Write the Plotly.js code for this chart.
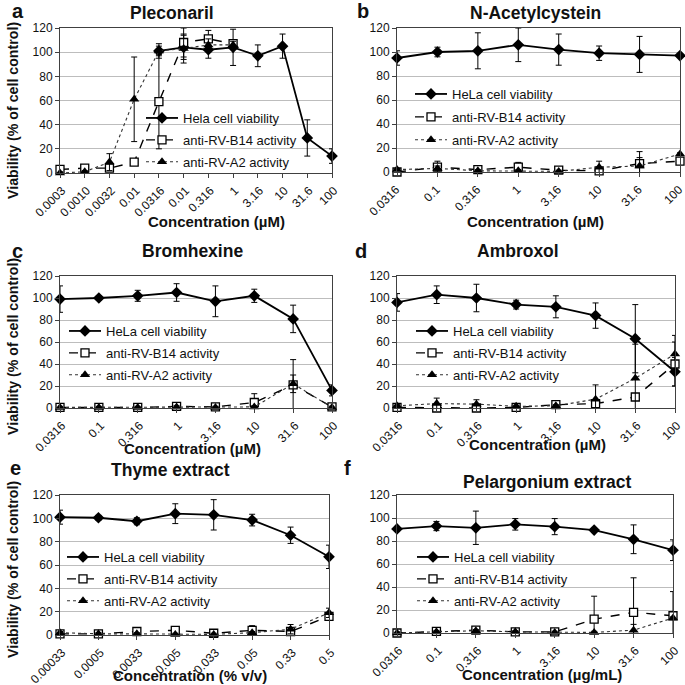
<!DOCTYPE html>
<html><head><meta charset="utf-8">
<script src="https://cdn.plot.ly/plotly-3.0.1.min.js"></script>
<style>body{margin:0;background:#fff}#c{width:685px;height:685px}</style>
</head><body><div id="c"></div>
<script>
// ---------- DATA ----------
const catsA = ['0.0003','0.0010','0.0032','0.01','0.0316','0.01','0.316','1','3.16','10','31.6','100'];
const helaA = [null,null,null,null,101,104,102,104,97,105,29,14];
const helaErrA = [null,null,null,null,6,10,7,15,9,10,15,6];
const b14A = [3,4,4,9,59,108,111,107,null,null,null,null];
const b14ErrA = [1,1,1,1,39,12,7,3,null,null,null,null];
const a2A = [0,1,9,61,101,103,106,106,null,null,null,null];
const a2ErrA = [1,1,7,35,4,12,5,3,null,null,null,null];

const catsB = ['0.0316','0.1','0.316','1','3.16','10','31.6','100'];
const helaB = [95,100,101,106,102,99,98,97];
const helaErrB = [6,4,15,14,13,6,15,0];
const b14B = [0,4,2,4,1.5,1,7,9];
const b14ErrB = [1,5,1,4,1,1,10,1];
const a2B = [2,3,1,1,0.5,4,5,15];
const a2ErrB = [1,2,1,1,1,5,7,1];

const catsC = ['0.0316','0.1','0.316','1','3.16','10','31.6','100'];
const helaC = [99,100,102,105,97,102,81,16];
const helaErrC = [12,2,5,8,14,6,12.5,5];
const b14C = [0.5,0.5,0.5,1.5,1,5,21,1];
const b14ErrC = [1,1,1,1,1,8,23,1];
const a2C = [0.5,0.5,0.5,1,0.5,1,22,0.5];
const a2ErrC = [1,1,1,1,1,1,8,1];

const catsD = ['0.0316','0.1','0.316','1','3.16','10','31.6','100'];
const helaD = [96,103,100,94,92,84,63,33];
const helaErrD = [8,8,12.5,4,10,11.5,31,13];
const b14D = [0.5,0,0,0.5,3,4,10,40];
const b14ErrD = [1,1,1,1,1,1,1,20];
const a2D = [2,4,3.5,1.5,2,8,27,49];
const a2ErrD = [1,5,4,1,1,13,31,17];

const catsE = ['0.00033','0.0005','0.0033','0.005','0.033','0.05','0.33','0.5'];
const helaE = [101,100.5,97.5,104,103,98.5,85.5,67];
const helaErrE = [6,2,3,8.5,13,5,7,10];
const b14E = [1,1,3,4,1.5,4,3,16];
const b14ErrE = [1,1,1,1,1,4,1,1];
const a2E = [2,1,1,0.5,0.5,2,5,19];
const a2ErrE = [1,1,1,1,1,1,4,4];

const catsF = ['0.0316','0.1','0.316','1','3.16','10','31.6','100'];
const helaF = [90.5,93,91.5,94.5,92.5,89.5,81.5,72];
const helaErrF = [1,4,14.5,5,7,1,12.5,9];
const b14F = [0,1.5,2.5,1,1,12,18,15];
const b14ErrF = [1,1,1,1,1,20,30,21];
const a2F = [0,1,2,1,0.5,0.5,2.5,13];
const a2ErrF = [1,1,1,1,1,1,5,1];

const yTicks = [0,20,40,60,80,100,120];
const seriesNames = ['HeLa cell viability','anti-RV-B14 activity','anti-RV-A2 activity'];

// ---------- LAYOUT HELPERS ----------
const W = 685, H = 685;
const px = v => v / W, py = v => 1 - v / H;
const FONT = 'Liberation Sans, Arial, sans-serif';

const panels = [
  {L:'a', title:'Pleconaril', cats:catsA, d:[helaA,b14A,a2A], e:[helaErrA,b14ErrA,a2ErrA], xt:'Concentration (µM)', n0:'Hela cell viability',
   box:[60,332,28,173], tpos:[172,13], lpos:[10,11], xtpos:[216,221], leg:[147,118], gap:2, yt:111, sh:2},
  {L:'b', title:'N-Acetylcystein', cats:catsB, d:[helaB,b14B,a2B], e:[helaErrB,b14ErrB,a2ErrB], xt:'Concentration (µM)',
   box:[397,680,28,172], tpos:[535,13], lpos:[355,11], xtpos:[535,221], leg:[416,94], gap:3, sh:-1},
  {L:'c', title:'Bromhexine', cats:catsC, d:[helaC,b14C,a2C], e:[helaErrC,b14ErrC,a2ErrC], xt:'Concentration (µM)',
   box:[60,332,276,408], tpos:[192,251], lpos:[10,251], xtpos:[192,448], leg:[70,331], gap:2, yt:347, sh:2},
  {L:'d', title:'Ambroxol', cats:catsD, d:[helaD,b14D,a2D], e:[helaErrD,b14ErrD,a2ErrD], xt:'Concentration (µM)',
   box:[397,675,276,408], tpos:[518,251], lpos:[353,251], xtpos:[537,444], leg:[417,331], gap:2, sh:2},
  {L:'e', title:'Thyme extract', cats:catsE, d:[helaE,b14E,a2E], e:[helaErrE,b14ErrE,a2ErrE], xt:'Concentration (% v/v)',
   box:[60,329,495,635], tpos:[170,470], lpos:[8,468], xtpos:[190,675], leg:[68,557], gap:2, yt:570, sh:2},
  {L:'f', title:'Pelargonium extract', cats:catsF, d:[helaF,b14F,a2F], e:[helaErrF,b14ErrF,a2ErrF], xt:'Concentration (µg/mL)',
   box:[397,673,495,633], tpos:[547,482], lpos:[342,468], xtpos:[542,674], leg:[418,557], gap:2, sh:2}
];

const styles = [
  {line:{color:'#000',width:1.8,dash:'solid'}, marker:{symbol:'diamond',size:9,color:'#000',line:{color:'#000',width:0}}},
  {line:{color:'#000',width:1.4,dash:'dash'}, marker:{symbol:'square',size:8,color:'#fff',line:{color:'#000',width:1.3}}},
  {line:{color:'#333',width:1.1,dash:'dot'}, marker:{symbol:'triangle-up',size:9,color:'#000',line:{color:'#000',width:0}}}
];

const traces = [];
const layout = {
  width:W, height:H, margin:{l:0,r:0,t:0,b:0}, paper_bgcolor:'#fff', plot_bgcolor:'#fff',
  showlegend:true, annotations:[], font:{family:FONT, color:'#111'}
};

panels.forEach((p,i) => {
  const k = i === 0 ? '' : String(i+1);
  const xa = 'x'+k, ya = 'y'+k, lg = 'legend'+k;
  const idx = p.cats.map((c,j) => j);
  p.d.forEach((vals,s) => {
    traces.push({
      type:'scatter', mode:'lines+markers', x:idx, y:vals, xaxis:xa, yaxis:ya,
      name: s===0 && p.n0 ? p.n0 : seriesNames[s], legend:lg, legendgroup:'g'+i+'_'+s,
      line:styles[s].line, marker:styles[s].marker, cliponaxis:false,
      error_y:{type:'data', array:p.e[s], visible:true, color:'#000', thickness:1, width:3}
    });
  });
  const [x0,x1,y0,y1] = p.box;
  layout['xaxis'+k] = {
    domain:[px(x0),px(x1)], anchor:ya, range:[0,p.cats.length-1], tickmode:'array', tickvals:idx, ticktext:p.cats,
    tickangle:-45, showgrid:false, zeroline:false, showline:true, linecolor:'#404040', linewidth:1, mirror:true,
    ticks:'outside', ticklen:4, tickcolor:'#404040', tickfont:{family:FONT,size:12,color:'#111'},
    ticklabelshift:p.sh, ticklabelstandoff:1, ticklabeloverflow:'allow', fixedrange:true
  };
  layout['yaxis'+k] = {
    domain:[py(y1),py(y0)], anchor:xa, range:[0,120], tickmode:'array', tickvals:yTicks,
    showgrid:true, gridcolor:'#bdbdbd', gridwidth:1, zeroline:false, showline:true, linecolor:'#404040', linewidth:1, mirror:true,
    ticks:'outside', ticklen:4, tickcolor:'#404040', tickfont:{family:FONT,size:12,color:'#111'}, fixedrange:true
  };
  layout[lg] = {
    x:px(p.leg[0]-6), y:py(p.leg[1]-15), xanchor:'left', yanchor:'top', bgcolor:'rgba(0,0,0,0)', borderwidth:0,
    font:{family:FONT,size:13,color:'#111'}, itemwidth:32, tracegroupgap:p.gap, traceorder:'grouped'
  };
  layout.annotations.push(
    {text:'<b>'+p.title+'</b>', x:px(p.tpos[0]), y:py(p.tpos[1]), xref:'paper', yref:'paper', xanchor:'center', yanchor:'middle', showarrow:false, font:{family:FONT,size:17.5,color:'#111'}},
    {text:'<b>'+p.L+'</b>', x:px(p.lpos[0]), y:py(p.lpos[1]), xref:'paper', yref:'paper', xanchor:'left', yanchor:'middle', showarrow:false, font:{family:FONT,size:20,color:'#111'}},
    {text:'<b>'+p.xt+'</b>', x:px(p.xtpos[0]), y:py(p.xtpos[1]), xref:'paper', yref:'paper', xanchor:'center', yanchor:'middle', showarrow:false, font:{family:FONT,size:15,color:'#111'}}
  );
  if (p.yt) {
    layout.annotations.push({text:'<b>Viability (% of cell control)</b>', x:px(13), y:py(p.yt), xref:'paper', yref:'paper',
      xanchor:'center', yanchor:'middle', textangle:-90, showarrow:false, font:{family:FONT,size:14.2,color:'#111'}});
  }
});

Plotly.newPlot('c', traces, layout, {staticPlot:true, displayModeBar:false});
</script>
</body></html>
